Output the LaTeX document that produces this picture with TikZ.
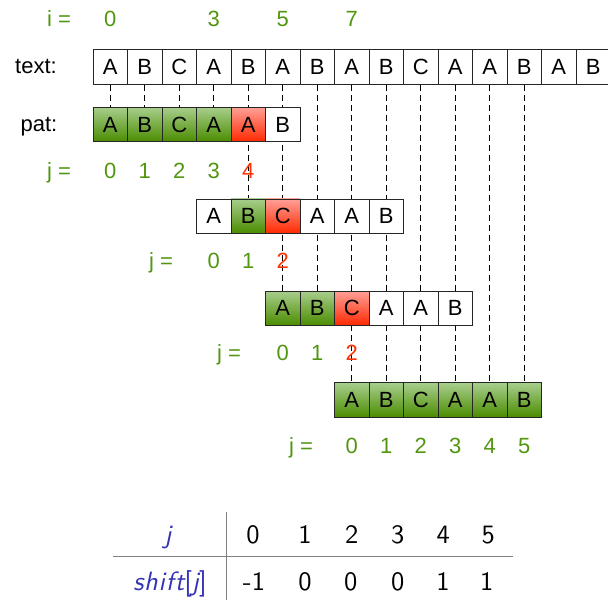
\documentclass[tikz,border=0pt]{standalone}
\usepackage{fontspec}
\setmainfont{Liberation Sans}
\newfontfamily\tblsf{lmsans10-regular.otf}
\newfontfamily\tblit[LetterSpace=3]{lmsans10-oblique.otf}
\definecolor{lblgreen}{RGB}{82,150,16}
\definecolor{lblred}{RGB}{255,51,0}
\definecolor{gtop}{RGB}{168,206,140}
\definecolor{gbot}{RGB}{74,140,0}
\definecolor{rtop}{RGB}{255,160,150}
\definecolor{rbot}{RGB}{255,40,0}
\definecolor{tblblue}{RGB}{51,51,179}
\definecolor{tblgray}{RGB}{128,128,128}
\newcommand{\cellfont}{\fontsize{22}{22}\selectfont}
\newcommand{\tblfont}{\tblsf\fontsize{26.5}{26.5}\selectfont}
\newcommand{\tblitfont}{\tblit\fontsize{26.5}{26.5}\selectfont}
\tikzset{
  boxcell/.style={draw=black!85, line width=0.9pt, minimum width=34.5pt, minimum height=34.5pt,
    inner sep=0pt, font=\cellfont, fill=white},
  gcell/.style={boxcell, top color=gtop, bottom color=gbot},
  rcell/.style={boxcell, top color=rtop, bottom color=rbot},
  guide/.style={draw=black, line width=0.8pt, dash pattern=on 6pt off 4pt},
  lbl/.style={font=\cellfont, inner sep=0pt, anchor=base},
  glbl/.style={lbl, text=lblgreen},
  rlbl/.style={lbl, text=lblred},
  tbl/.style={font=\tblfont, inner sep=0pt, anchor=base},
  tblb/.style={font=\tblitfont, inner sep=0pt, anchor=base, text=tblblue},
  tblline/.style={draw=tblgray, line width=1.4pt},
}
\begin{document}
\begin{tikzpicture}[x=1pt, y=-1pt]
\useasboundingbox (0,0) rectangle (608,600);
% text row
\foreach \ch [count=\k from 0] in {A,B,C,A,B,A,B,A,B,C,A,A,B,A,B}
  \node[boxcell] (t\k) at ({110.25+34.5*\k},67) {\ch};
% guide end points: top of the last pattern row covering each text cell
\foreach \k/\r in {0/124.5,1/124.5,2/124.5,3/124.5,4/216.2,5/308.3,6/308.3,7/400,8/400,9/400,10/400,11/400,12/400}
  \coordinate (g\k) at ({110.25+34.5*\k},{\r-17.25});
\foreach \k in {0,...,12}
  \draw[guide] (t\k.south) -- (g\k);
% pattern 1 (offset 0)
\node[gcell] (pa0) at (110.25,124.5) {A};
\node[gcell] (pa1) at (144.75,124.5) {B};
\node[gcell] (pa2) at (179.25,124.5) {C};
\node[gcell] (pa3) at (213.75,124.5) {A};
\node[rcell] (pa4) at (248.25,124.5) {A};
\node[boxcell] (pa5) at (282.75,124.5) {B};
% pattern 2 (offset 3)
\node[boxcell] (pb0) at (213.75,216.2) {A};
\node[gcell] (pb1) at (248.25,216.2) {B};
\node[rcell] (pb2) at (282.75,216.2) {C};
\node[boxcell] (pb3) at (317.25,216.2) {A};
\node[boxcell] (pb4) at (351.75,216.2) {A};
\node[boxcell] (pb5) at (386.25,216.2) {B};
% pattern 3 (offset 5)
\node[gcell] (pc0) at (282.75,308.3) {A};
\node[gcell] (pc1) at (317.25,308.3) {B};
\node[rcell] (pc2) at (351.75,308.3) {C};
\node[boxcell] (pc3) at (386.25,308.3) {A};
\node[boxcell] (pc4) at (420.75,308.3) {A};
\node[boxcell] (pc5) at (455.25,308.3) {B};
% pattern 4 (offset 7)
\foreach \ch [count=\k from 0] in {A,B,C,A,A,B}
  \node[gcell] (pd\k) at ({351.75+34.5*\k},400) {\ch};
% row labels
\node[lbl] (textlbl) at (36,73) {text:};
\node[lbl] (patlbl) at (39,131) {pat:};
% i labels
\node[glbl] (ieq) at (59,26) {i =};
\node[glbl] (i0) at (110.25,26) {0};
\node[glbl] (i3) at (213.75,26) {3};
\node[glbl] (i5) at (282.75,26) {5};
\node[glbl] (i7) at (351.75,26) {7};
% j labels row 1
\node[glbl] (ja) at (59,178) {j =};
\node[glbl] (ja0) at (110.25,178) {0};
\node[glbl] (ja1) at (144.75,178) {1};
\node[glbl] (ja2) at (179.25,178) {2};
\node[glbl] (ja3) at (213.75,178) {3};
\node[rlbl] (ja4) at (248.25,178) {4};
% j labels row 2
\node[glbl] (jb) at (161,268) {j =};
\node[glbl] (jb0) at (213.75,268) {0};
\node[glbl] (jb1) at (248.25,268) {1};
\node[rlbl] (jb2) at (282.75,268) {2};
% j labels row 3
\node[glbl] (jc) at (229,360) {j =};
\node[glbl] (jc0) at (282.75,360) {0};
\node[glbl] (jc1) at (317.25,360) {1};
\node[rlbl] (jc2) at (351.75,360) {2};
% j labels row 4
\node[glbl] (jd) at (301,453) {j =};
\foreach \d in {0,...,5}
  \node[glbl] (jd\d) at ({351.75+34.5*\d},453) {\d};
% table
\coordinate (vtop) at (226.7,511.7);
\coordinate (vbot) at (226.7,600);
\coordinate (hl) at (113,556.7);
\coordinate (hr) at (512.7,556.7);
\draw[tblline] (vtop) -- (vbot);
\draw[tblline] (hl) -- (hr);
\node[tblb] (tj) at (168,543) {j};
\node[tblb] (tshift) at (170,590) {shift{\tblsf[}j{\tblsf]}};
\foreach \x/\v [count=\n] in {253/0,305/1,351.7/2,397.7/3,443.3/4,488.3/5}
  \node[tbl] (th\n) at (\x,543) {\v};
\foreach \x/\v [count=\n] in {254/-1,305/0,350.7/0,397.7/0,443/1,486.7/1}
  \node[tbl] (tv\n) at (\x,590) {\v};
\end{tikzpicture}
\end{document}
